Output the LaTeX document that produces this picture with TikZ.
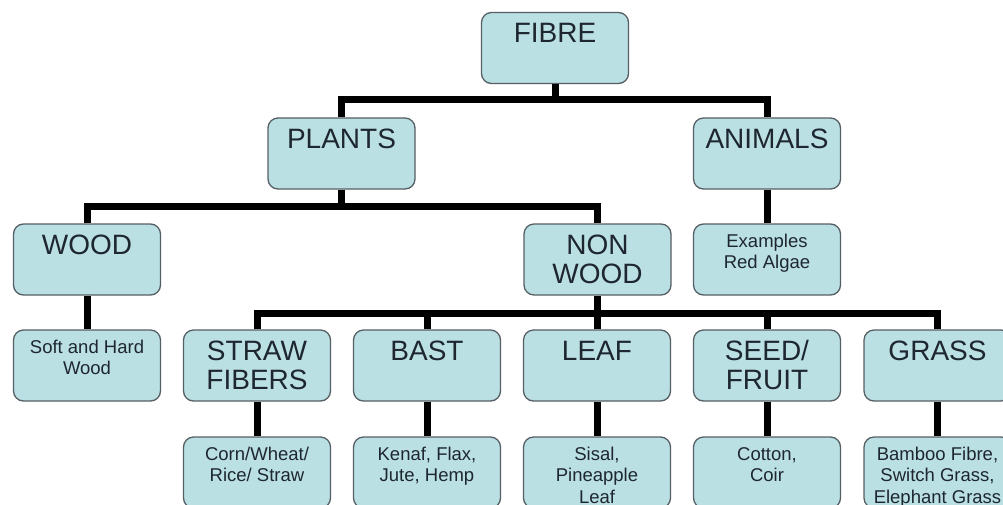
\documentclass[tikz,border=0pt]{standalone}
\usepackage{fontspec}
\setmainfont{Liberation Sans}
\definecolor{boxfill}{RGB}{186,224,228}
\definecolor{boxline}{RGB}{85,95,100}
\definecolor{txt}{RGB}{30,38,48}
\newcommand{\boxbig}[1]{\parbox[c][71pt][t]{147pt}{\centering\fontsize{28}{29.5}\selectfont\rule{0pt}{30pt}#1\par}}
\newcommand{\boxsmall}[1]{\parbox[c][71pt][t]{147pt}{\centering\fontsize{18.5}{21.5}\selectfont\rule{0pt}{23pt}#1\par}}
\tikzset{
  fbox/.style={draw=boxline, line width=1.3pt, fill=boxfill, rounded corners=10pt, inner sep=0pt, text=txt},
  conn/.style={line width=7pt, draw=black}
}
\begin{document}
\begin{tikzpicture}[x=1pt,y=-1pt]
\clip (0,0) rectangle (1003,504);
\fill[white] (0,0) rectangle (1003,504);
% row 1
\node[fbox] (fibre) at (555,48) {\boxbig{FIBRE}};
% row 2
\node[fbox] (plants) at (341.5,153.5) {\boxbig{PLANTS}};
\node[fbox] (animals) at (767,153.5) {\boxbig{ANIMALS}};
% row 3
\node[fbox] (wood) at (87,259.5) {\boxbig{WOOD}};
\node[fbox] (nonwood) at (597.5,259.5) {\boxbig{NON\\WOOD}};
\node[fbox] (examples) at (767,259.5) {\boxsmall{Examples\\Red Algae}};
% row 4
\node[fbox] (softhard) at (87,365.5) {\boxsmall{Soft and Hard\\Wood}};
\node[fbox] (straw) at (257,365.5) {\boxbig{STRAW\\FIBERS}};
\node[fbox] (bast) at (427,365.5) {\boxbig{BAST}};
\node[fbox] (leaf) at (597,365.5) {\boxbig{LEAF}};
\node[fbox] (seed) at (767,365.5) {\boxbig{SEED/\\FRUIT}};
\node[fbox] (grass) at (937.5,365.5) {\boxbig{GRASS}};
% row 5
\node[fbox] (corn) at (257,472.5) {\boxsmall{Corn/Wheat/\\Rice/ Straw}};
\node[fbox] (kenaf) at (427,472.5) {\boxsmall{Kenaf, Flax,\\Jute, Hemp}};
\node[fbox] (sisal) at (597,472.5) {\boxsmall{Sisal,\\Pineapple\\Leaf}};
\node[fbox] (cotton) at (767,472.5) {\boxsmall{Cotton,\\Coir}};
\node[fbox] (bamboo) at (937.5,472.5) {\boxsmall{Bamboo Fibre,\\Switch Grass,\\Elephant Grass}};
% connectors
\draw[conn] (fibre.south) -- ++(0,17);
\draw[conn] (plants.north) -- ++(0,-18) -| (animals.north);
\draw[conn] (plants.south) -- ++(0,18.5);
\draw[conn] (wood.north) -- ++(0,-17) -| (nonwood.north);
\draw[conn] (animals.south) -- (examples.north);
\draw[conn] (wood.south) -- (softhard.north);
\draw[conn] (nonwood.south) -- ++(0,18.5);
\draw[conn] (straw.north) -- ++(0,-16) -| (grass.north);
\draw[conn] (bast.north) -- ++(0,-16);
\draw[conn] (leaf.north) -- ++(0,-16);
\draw[conn] (seed.north) -- ++(0,-16);
\draw[conn] (straw.south) -- (corn.north);
\draw[conn] (bast.south) -- (kenaf.north);
\draw[conn] (leaf.south) -- (sisal.north);
\draw[conn] (seed.south) -- (cotton.north);
\draw[conn] (grass.south) -- (bamboo.north);
\end{tikzpicture}
\end{document}
